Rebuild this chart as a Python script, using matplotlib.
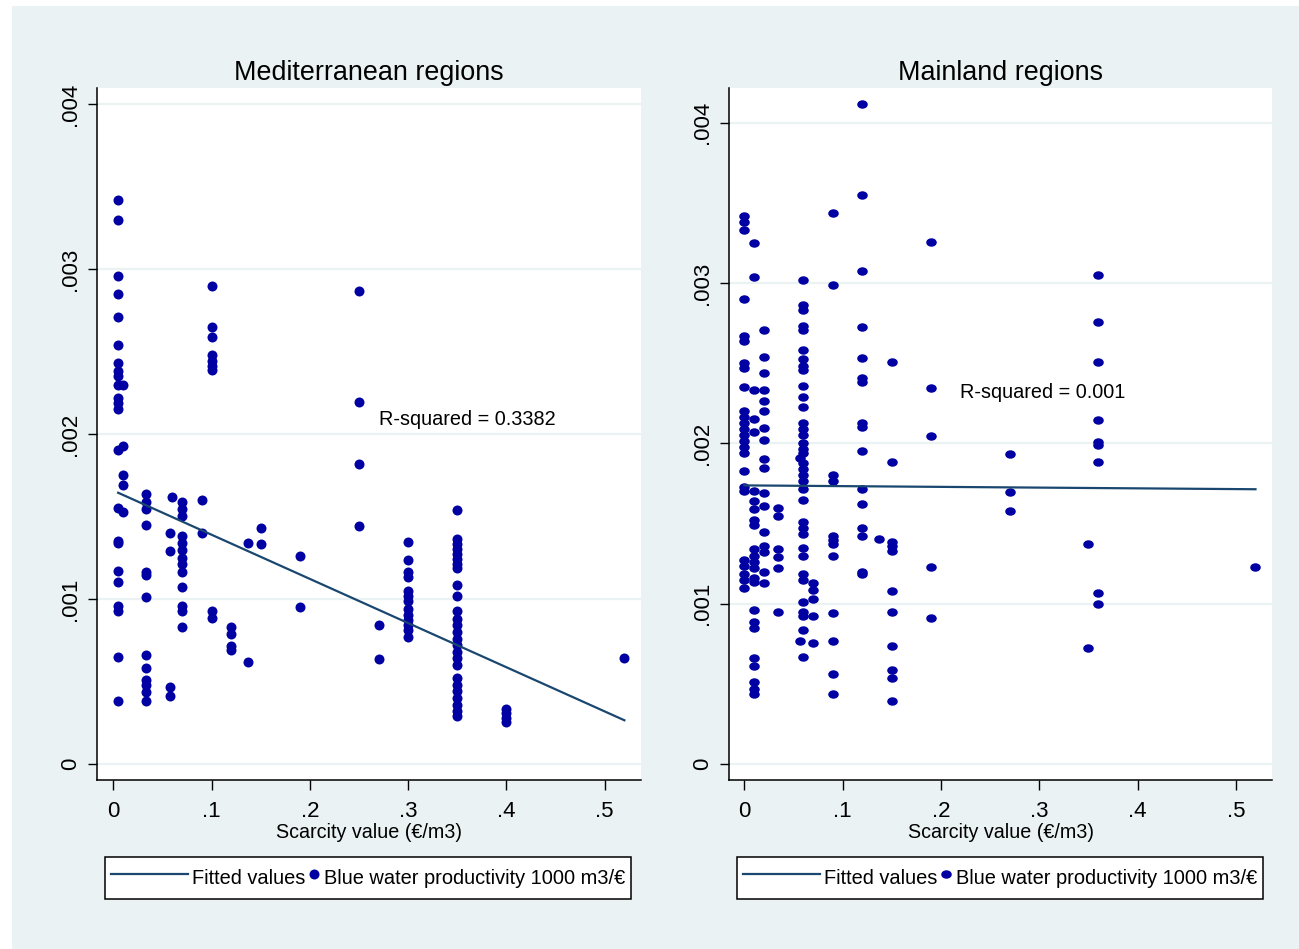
import numpy as np
import matplotlib
matplotlib.use('Agg')
from matplotlib import pyplot as plt
from matplotlib.patches import Rectangle
from matplotlib.path import Path
from matplotlib.legend_handler import HandlerLine2D

plt.rcParams['font.family'] = ['Liberation Sans', 'DejaVu Sans']

# Mediterranean regions: scarcity value (EUR/m3) of each column of points,
# and blue water productivity of the points in it (in units of 0.001)
med_scarcity = [0.005, 0.01, 0.033, 0.058, 0.06, 0.07, 0.09, 0.10, 0.12,
                0.137, 0.15, 0.19, 0.25, 0.27, 0.30, 0.35, 0.40, 0.52]
med_bwp = [
    [3.42, 3.30, 2.96, 2.85, 2.71, 2.54, 2.43, 2.38, 2.35, 2.30, 2.22, 2.19,
     2.15, 1.90, 1.55, 1.35, 1.34, 1.17, 1.10, 0.96, 0.93, 0.65, 0.38],
    [2.30, 1.93, 1.75, 1.69, 1.53],
    [1.635, 1.59, 1.545, 1.45, 1.165, 1.145, 1.01, 0.66, 0.58, 0.51, 0.48,
     0.435, 0.38],
    [1.40, 1.29, 0.465, 0.41],
    [1.62],
    [1.585, 1.545, 1.50, 1.38, 1.34, 1.295, 1.25, 1.21, 1.165, 1.07, 0.96,
     0.93, 0.83],
    [1.60, 1.40],
    [2.90, 2.65, 2.59, 2.48, 2.445, 2.415, 2.39, 0.93, 0.885],
    [0.83, 0.79, 0.715, 0.69],
    [1.34, 0.62],
    [1.43, 1.335],
    [1.26, 0.95],
    [2.865, 2.195, 1.82, 1.445],
    [0.84, 0.635],
    [1.345, 1.235, 1.165, 1.135, 1.05, 1.02, 0.99, 0.94, 0.90, 0.87, 0.84,
     0.81, 0.77],
    [1.54, 1.365, 1.335, 1.305, 1.275, 1.245, 1.215, 1.185, 1.085, 1.02,
     0.93, 0.88, 0.84, 0.80, 0.76, 0.72, 0.68, 0.64, 0.60, 0.52, 0.48, 0.44,
     0.40, 0.36, 0.32, 0.29],
    [0.335, 0.31, 0.28, 0.255],
    [0.64],
]
med_fit_x = [0.005, 0.52]
med_fit_y = [1.644, 0.265]
med_r2 = 'R-squared = 0.3382'

# Mainland regions
main_scarcity = [0.0, 0.01, 0.02, 0.034, 0.057, 0.06, 0.07, 0.09, 0.12,
                 0.137, 0.15, 0.19, 0.27, 0.35, 0.36, 0.52]
main_bwp = [
    [3.42, 3.38, 3.33, 2.90, 2.67, 2.64, 2.50, 2.47, 2.35, 2.20, 2.165, 2.13,
     2.09, 2.05, 2.015, 1.975, 1.94, 1.83, 1.725, 1.70, 1.275, 1.235, 1.185,
     1.15, 1.10],
    [3.25, 3.04, 2.33, 2.15, 2.07, 1.70, 1.64, 1.59, 1.525, 1.49, 1.34, 1.30,
     1.26, 1.225, 1.16, 1.135, 0.96, 0.885, 0.85, 0.66, 0.61, 0.51, 0.47,
     0.435],
    [2.71, 2.54, 2.44, 2.33, 2.265, 2.20, 2.095, 2.02, 1.90, 1.845, 1.69,
     1.61, 1.45, 1.36, 1.325, 1.20, 1.13],
    [1.60, 1.55, 1.34, 1.29, 1.225, 0.95],
    [1.91, 0.765],
    [3.02, 2.865, 2.835, 2.73, 2.705, 2.585, 2.525, 2.485, 2.455, 2.355, 2.29,
     2.225, 2.125, 2.09, 2.05, 2.00, 1.965, 1.94, 1.875, 1.84, 1.80, 1.765,
     1.715, 1.65, 1.51, 1.475, 1.435, 1.35, 1.30, 1.185, 1.15, 1.01, 0.95,
     0.925, 0.835, 0.67],
    [1.13, 1.085, 1.03, 0.925, 0.755],
    [3.44, 2.985, 1.80, 1.765, 1.425, 1.40, 1.375, 1.295, 0.94, 0.765, 0.56,
     0.435],
    [4.12, 3.55, 3.075, 2.725, 2.535, 2.41, 2.385, 2.13, 2.105, 1.955, 1.715,
     1.625, 1.475, 1.425, 1.20, 1.185],
    [1.405],
    [2.51, 1.885, 1.385, 1.36, 1.33, 1.08, 0.95, 0.735, 0.585, 0.535, 0.39],
    [3.255, 2.345, 2.045, 1.23, 0.91],
    [1.935, 1.695, 1.58],
    [1.37, 0.725],
    [3.05, 2.755, 2.505, 2.145, 2.01, 1.99, 1.885, 1.065, 1.00],
    [1.23],
]
main_fit_x = [0.0, 0.52]
main_fit_y = [1.738, 1.714]
main_r2 = 'R-squared = 0.001'

x_ticks = [0, 0.1, 0.2, 0.3, 0.4, 0.5]
x_labels = ['0', '.1', '.2', '.3', '.4', '.5']
y_ticks = [0, 0.001, 0.002, 0.003, 0.004]
y_labels = ['0', '.001', '.002', '.003', '.004']

bg = '#EAF2F3'
dot_c = '#0000A3'
line_c = '#1A476F'

W, H = 1299, 949
fig = plt.figure(figsize=(W / 100, H / 100), dpi=100, facecolor='white')
fig.patches.append(Rectangle((12 / W, 0), 1, (H - 6) / H, transform=fig.transFigure,
                             facecolor=bg, edgecolor='none', zorder=-10))

# the mainland panel was stretched, its dots are a bit wider than tall
ellipse = Path(Path.unit_circle().vertices * [1, 0.8], Path.unit_circle().codes)


class WideLine(HandlerLine2D):
    # long line key for "Fitted values", short key for the dots
    def legend_artist(self, legend, orig_handle, fontsize, handlebox):
        handlebox.width = handlebox.width * 6.4
        return super().legend_artist(legend, orig_handle, fontsize, handlebox)


def panel(rect, title, cols, vals, fit_x, fit_y, r2, r2_pos, xlim, ylim, marker, msize, leg_x):
    ax = fig.add_axes(rect)
    ax.set_facecolor('white')
    x = np.repeat(cols, [len(v) for v in vals])
    y = np.concatenate([np.array(v) for v in vals]) * 1e-3
    fit, = ax.plot(fit_x, np.array(fit_y) * 1e-3, color=line_c, lw=1.6, zorder=3)
    pts, = ax.plot(x, y, linestyle='none', marker=marker, markersize=msize,
                   color=dot_c, markeredgewidth=0, zorder=2)
    ax.text(r2_pos[0], r2_pos[1], r2, fontsize=14.3, va='center', ha='left')
    ax.set_xlim(*xlim)
    ax.set_ylim(*ylim)
    ax.set_xticks(x_ticks, x_labels)
    ax.set_yticks(y_ticks, y_labels, rotation=90, va='center')
    ax.tick_params(axis='x', length=7.2, width=1, labelsize=16, pad=8)
    ax.tick_params(axis='y', length=6.5, width=1, labelsize=16, pad=5)
    ax.yaxis.grid(True, color=bg, lw=1.6)
    ax.set_axisbelow(True)
    for s in ['top', 'right']:
        ax.spines[s].set_visible(False)
    for s in ['left', 'bottom']:
        ax.spines[s].set_linewidth(1.1)
    ax.set_title(title, fontsize=19.4, pad=6)
    ax.set_xlabel('Scarcity value (€/m3)', fontsize=14.2, labelpad=1)
    leg = ax.legend([fit, pts], ['Fitted values', 'Blue water productivity 1000 m3/€'],
                    ncol=2, loc='center', bbox_to_anchor=(leg_x / W, 1 - 878 / H),
                    bbox_transform=fig.transFigure, fontsize=14.4, handlelength=0.6,
                    handleheight=1.9, handletextpad=0.2, columnspacing=0.15,
                    borderpad=0.3, fancybox=False, framealpha=1, edgecolor='black',
                    numpoints=1, handler_map={fit: WideLine()})
    leg.get_frame().set_linewidth(1.1)
    return ax


panel([97 / W, 169 / H, 544 / W, 692 / H], 'Mediterranean regions', med_scarcity, med_bwp,
      med_fit_x, med_fit_y, med_r2, (0.270, 2.09e-3), (-0.0165, 0.5369),
      (-0.097e-3, 4.097e-3), 'o', 7.2, 368)
panel([729 / W, 169 / H, 543 / W, 692 / H], 'Mainland regions', main_scarcity, main_bwp,
      main_fit_x, main_fit_y, main_r2, (0.219, 2.317e-3), (-0.0156, 0.5368),
      (-0.0998e-3, 4.217e-3), ellipse, 7.6, 1000)

fig.savefig('out.png', dpi=100, facecolor=fig.get_facecolor())
